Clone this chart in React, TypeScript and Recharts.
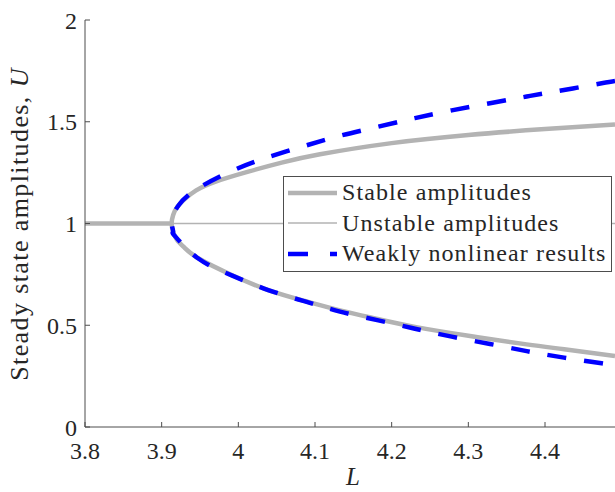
import React from 'react';
import { LineChart, Line, XAxis, YAxis, Legend } from 'recharts';

const FONT = "'Liberation Serif', 'Times New Roman', serif";
const AXIS_COLOR = '#4d4d4d';
const TEXT_COLOR = '#262626';
const GREY = '#b3b3b3';
const BLUE = '#0000ff';

const xTicks = [3.8, 3.9, 4, 4.1, 4.2, 4.3, 4.4];
const yTicks = [0, 0.5, 1, 1.5, 2];
const xDomain = [3.8, 4.4913];
const yDomain = [0, 2];

const legendLabels = ['Stable amplitudes', 'Unstable amplitudes', 'Weakly nonlinear results'];

// Stable flat branch (before bifurcation)
const flatL = [3.8, 3.913];
const flatU = [1, 1];

// Unstable branch (after bifurcation)
const unstableL = [3.913, 4.4913];
const unstableU = [1, 1];

// Stable amplitudes: upper branch (right -> tip) then lower branch (tip -> right)
const stableL = [4.4913, 4.4, 4.3, 4.2, 4.1065, 4.0565, 4.013, 3.9696, 3.945, 3.93, 3.92, 3.915, 3.913,
  3.915, 3.92, 3.93, 3.9478, 3.9913, 4.039, 4.087, 4.1326, 4.18, 4.2304, 4.3022, 4.376, 4.425, 4.4913];
const stableU = [1.487, 1.464, 1.435, 1.395, 1.34, 1.299, 1.255, 1.205, 1.163, 1.12, 1.08, 1.042, 1.0,
  0.958, 0.92, 0.88, 0.829, 0.747, 0.673, 0.619, 0.573, 0.532, 0.492, 0.447, 0.406, 0.382, 0.349];

// Weakly nonlinear results
const weakL = [4.4913, 4.4739, 4.4248, 4.3761, 4.3282, 4.2783, 4.2304, 4.1826, 4.1326, 4.087, 4.039, 3.9926,
  3.9435, 3.9217, 3.915, 3.913, 3.915, 3.9174, 3.9478, 3.9913, 4.039, 4.087, 4.1326, 4.1826, 4.2304,
  4.2783, 4.3282, 4.3761, 4.4248, 4.4739, 4.4913];
const weakU = [1.7, 1.689, 1.656, 1.624, 1.591, 1.556, 1.518, 1.476, 1.431, 1.382, 1.326, 1.26,
  1.163, 1.087, 1.042, 1.0, 0.958, 0.938, 0.828, 0.745, 0.673, 0.617, 0.567, 0.524, 0.483,
  0.444, 0.408, 0.373, 0.341, 0.313, 0.302];

const zip = (ls: number[], us: number[]) => ls.map((L, i) => ({ L, U: us[i] }));

const flatData = zip(flatL, flatU);
const unstableData = zip(unstableL, unstableU);
const stableData = zip(stableL, stableU);
const weakData = zip(weakL, weakU);

const fmt = (v: number) => String(v);

const YLabel = () => (
  <text
    transform="translate(28,224) rotate(-90)"
    textAnchor="middle"
    fontFamily={FONT}
    fontSize={26}
    letterSpacing={1.4}
    fill={TEXT_COLOR}
  >
    Steady state amplitudes, <tspan fontStyle="italic">U</tspan>
  </text>
);

const XLabel = () => (
  <text x={353} y={485} textAnchor="middle" fontFamily={FONT} fontSize={25} fontStyle="italic" fill={TEXT_COLOR}>
    L
  </text>
);

const LegendBox = () => (
  <svg width={330} height={97} style={{ display: 'block' }}>
    <rect x={0.5} y={0.5} width={328} height={95} fill="#ffffff" stroke={AXIS_COLOR} strokeWidth={1} />
    <line x1={5} x2={54} y1={17} y2={17} stroke={GREY} strokeWidth={4.5} />
    <line x1={5} x2={54} y1={47} y2={47} stroke={GREY} strokeWidth={1.5} />
    <line x1={5} x2={54} y1={78} y2={78} stroke={BLUE} strokeWidth={4.5} strokeDasharray="20 22" />
    {legendLabels.map((t, i) => (
      <text key={t} x={59} y={24 + i * 30.5} fontFamily={FONT} fontSize={24} letterSpacing={1.1} fill={TEXT_COLOR}>
        {t}
      </text>
    ))}
  </svg>
);

export default function App() {
  return (
    <div style={{ position: 'absolute', left: 0, top: 0, width: 615, height: 492, background: '#fff' }}>
      <LineChart width={615} height={492} margin={{ top: 20, right: 0, bottom: 0, left: 0 }}>
        <XAxis
          type="number"
          dataKey="L"
          domain={xDomain}
          ticks={xTicks}
          allowDataOverflow
          height={65}
          tickFormatter={fmt}
          tickSize={-5}
          tickMargin={20}
          axisLine={{ stroke: AXIS_COLOR, strokeWidth: 1 }}
          tickLine={{ stroke: AXIS_COLOR, strokeWidth: 1 }}
          tick={{ fill: TEXT_COLOR, fontSize: 24, fontFamily: FONT }}
          label={<XLabel />}
        />
        <YAxis
          type="number"
          domain={yDomain}
          ticks={yTicks}
          allowDataOverflow
          width={85}
          tickFormatter={fmt}
          tickSize={-5}
          tickMargin={13}
          axisLine={{ stroke: AXIS_COLOR, strokeWidth: 1 }}
          tickLine={{ stroke: AXIS_COLOR, strokeWidth: 1 }}
          tick={{ fill: TEXT_COLOR, fontSize: 24, fontFamily: FONT }}
          label={<YLabel />}
        />
        <Line data={flatData} dataKey="U" type="linear" stroke={GREY} strokeWidth={4.5} dot={false} activeDot={false} isAnimationActive={false} />
        <Line data={stableData} dataKey="U" type="natural" stroke={GREY} strokeWidth={4.5} dot={false} activeDot={false} isAnimationActive={false} />
        <Line data={unstableData} dataKey="U" type="linear" stroke={GREY} strokeWidth={1.5} dot={false} activeDot={false} isAnimationActive={false} />
        <Line data={weakData} dataKey="U" type="natural" stroke={BLUE} strokeWidth={4.5} strokeDasharray="19 18" dot={false} activeDot={false} isAnimationActive={false} />
        <Legend
          layout="vertical"
          align="center"
          verticalAlign="middle"
          content={<LegendBox />}
          wrapperStyle={{ position: 'absolute', left: 283, top: 176, width: 330, height: 97 }}
        />
      </LineChart>
    </div>
  );
}
